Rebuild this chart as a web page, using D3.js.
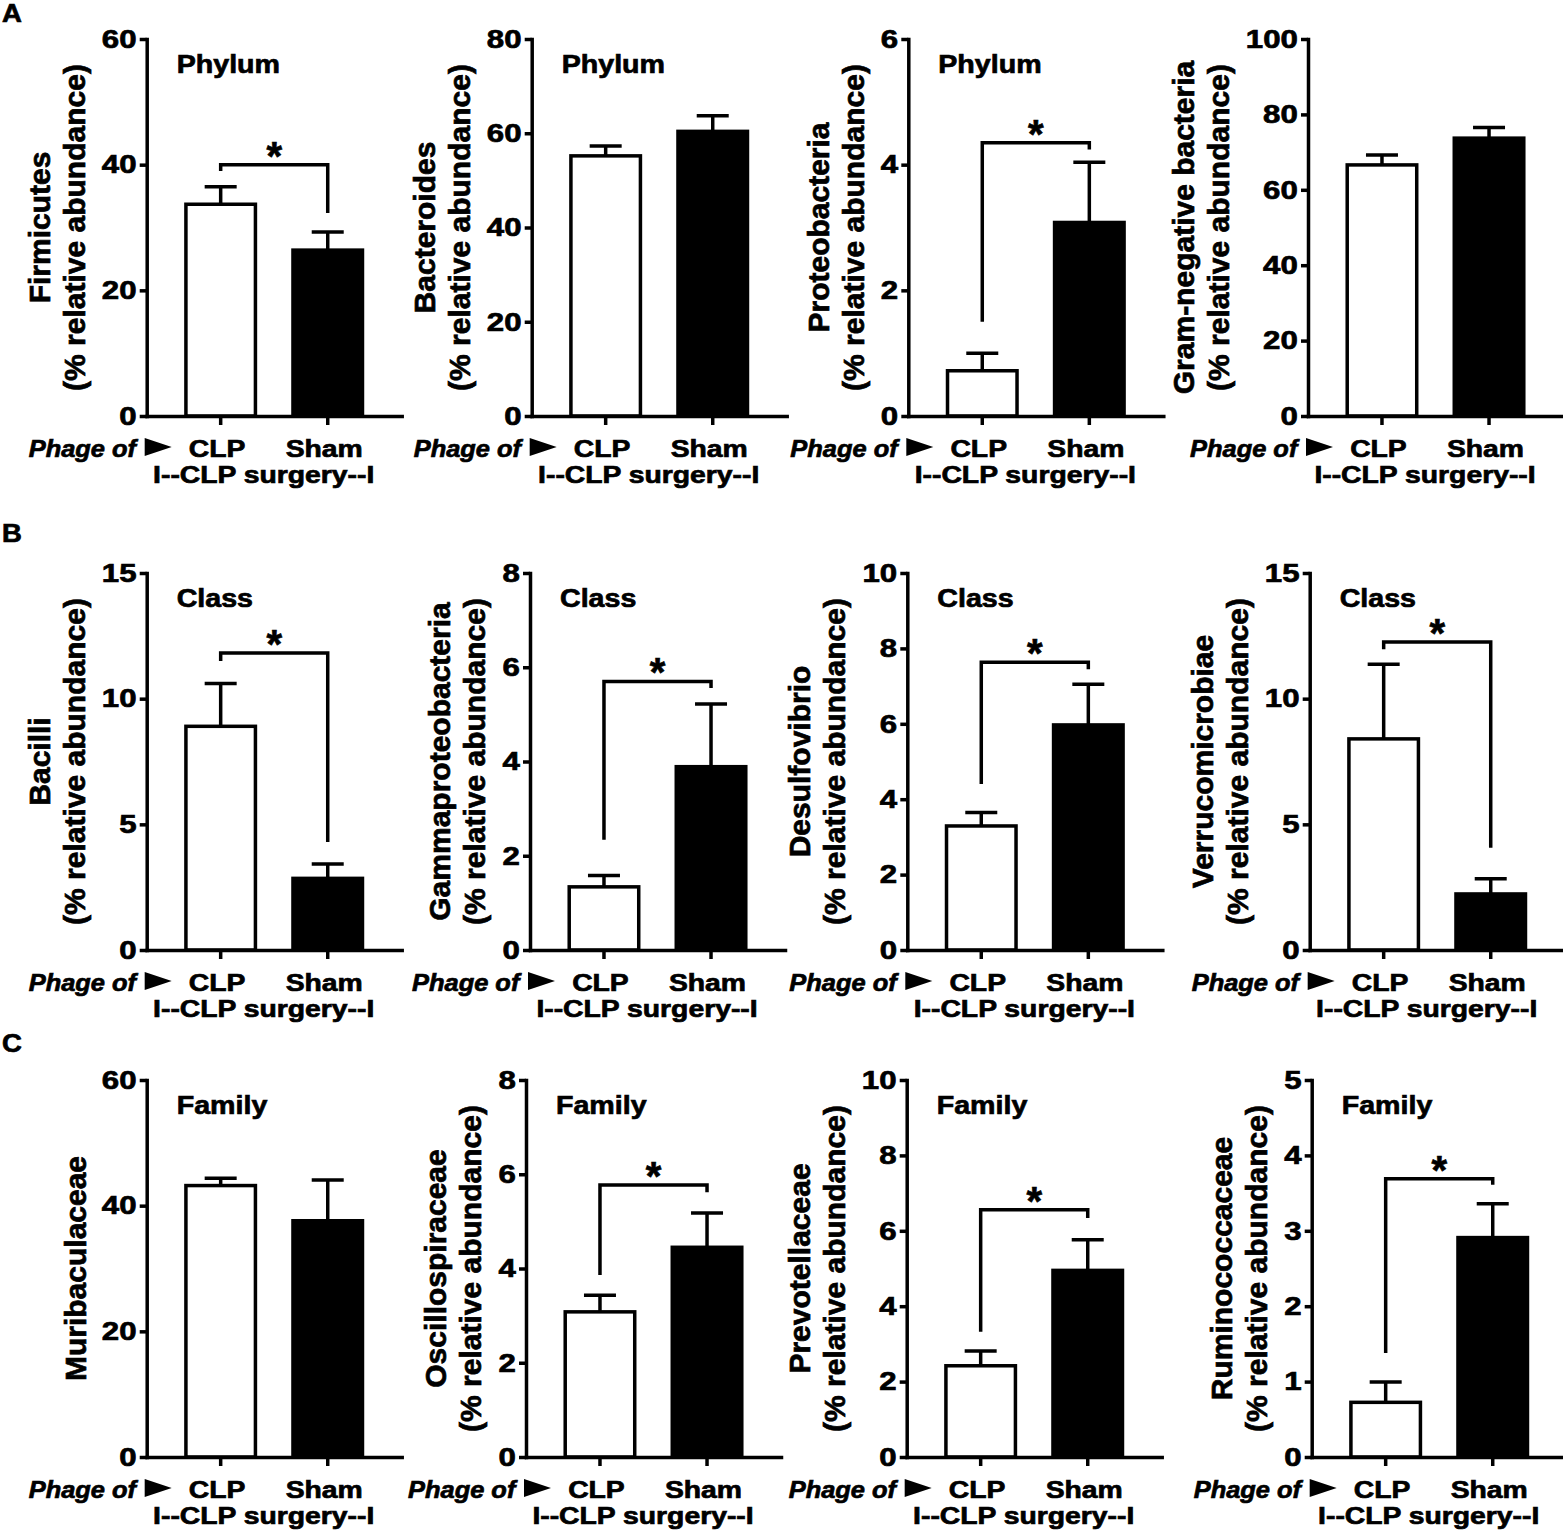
<!DOCTYPE html>
<html>
<head>
<meta charset="utf-8">
<script src="https://cdn.jsdelivr.net/npm/d3@7"></script>
<style>
  html, body { margin: 0; padding: 0; background: #fff; }
  svg { display: block; font-family: "Liberation Sans", Arial, Helvetica, sans-serif; font-weight: bold; }
  svg text { stroke: #000; stroke-width: 0.7px; paint-order: stroke; }
</style>
</head>
<body>
<svg id="chart" width="1563" height="1534"></svg>
<script>
// ---------- data ----------
const groups = ["CLP", "Sham"];
const taxa = ["Firmicutes", "Bacteroides", "Proteobacteria", "Gram-negative bacteria",
              "Bacilli", "Gammaproteobacteria", "Desulfovibrio", "Verrucomicrobiae",
              "Muribaculaceae", "Oscillospiraceae", "Prevotellaceae", "Ruminococcaceae"];
const twoLineTitle = [true, true, true, true, true, true, true, true, false, true, true, true];
const levels = ["Phylum", "Phylum", "Phylum", null,
                "Class", "Class", "Class", "Class",
                "Family", "Family", "Family", "Family"];
const yMax = [60, 80, 6, 100, 15, 8, 10, 15, 60, 8, 10, 5];
const yTicks = [
  [0, 20, 40, 60], [0, 20, 40, 60, 80], [0, 2, 4, 6], [0, 20, 40, 60, 80, 100],
  [0, 5, 10, 15], [0, 2, 4, 6, 8], [0, 2, 4, 6, 8, 10], [0, 5, 10, 15],
  [0, 20, 40, 60], [0, 2, 4, 6, 8], [0, 2, 4, 6, 8, 10], [0, 1, 2, 3, 4, 5]
];
const clpMean  = [33.7, 55.2, 0.72, 66.6, 8.9, 1.34, 3.29, 8.4, 43.2, 3.08, 2.42, 0.725];
const clpSEM   = [2.8, 2.1, 0.28, 2.6, 1.7, 0.24, 0.36, 2.97, 1.15, 0.35, 0.39, 0.27];
const shamMean = [26.4, 60.4, 3.08, 73.7, 2.85, 3.89, 5.97, 2.23, 37.6, 4.45, 4.95, 2.91];
const shamSEM  = [2.9, 3.3, 0.96, 2.8, 0.57, 1.33, 1.08, 0.6, 6.5, 0.73, 0.81, 0.45];
// significance brackets: [bracket top, left leg end, right leg end] in data units
const brackets = [
  [40, 39, 32.3], null, [4.35, 1.5, 4.24], null,
  [11.82, 11.5, 4.3], [5.7, 2.34, 5.56], [7.63, 4.4, 7.45], [12.25, 11.97, 4.07],
  null, [5.77, 3.86, 5.62], [6.56, 3.32, 6.34], [3.69, 1.38, 3.61]
];
const panelLetters = ["A", "B", "C"];

// ---------- layout ----------
const axisX = [146.7, 531.7, 908.3, 1308, 146.7, 530, 907.3, 1309.7, 146.7, 526, 906.7, 1311.7];
const rowTop = [39, 573, 1080];
const letterY = [22, 542, 1052];
const plotH = 377;
const xSpan = 255;
const SW = 3.5;
const HS = 1.18;  // horizontal stretch of small horizontal text
const FS = 24;    // small horizontal text size
const TS = 1.2;   // tick label stretch

const svg = d3.select("#chart");
svg.append("rect").attr("width", 1563).attr("height", 1534).attr("fill", "#fff");

panelLetters.forEach((L, r) => {
  svg.append("text").attr("transform", `translate(2,${letterY[r]}) scale(1.1,1)`)
    .attr("font-size", 25).text(L);
});

function hText(parent, x, y, txt, opts = {}) {
  const g = parent.append("g").attr("transform", `translate(${x},${y}) scale(${opts.sx || HS},1)`);
  const t = g.append("text").attr("font-size", opts.size || FS)
    .attr("text-anchor", opts.anchor || "start").text(txt);
  if (opts.italic) t.attr("font-style", "italic");
  return t;
}

for (let i = 0; i < 12; i++) {
  const row = Math.floor(i / 4);
  const ax = axisX[i];
  const top = rowTop[row];
  const zero = top + plotH;
  const g = svg.append("g");

  const y = d3.scaleLinear().domain([0, yMax[i]]).range([zero, top]);
  const x = d3.scaleBand().domain(groups).range([ax, ax + xSpan])
    .paddingInner(0.318).paddingOuter(0.35);
  const bw = x.bandwidth();
  const means = [clpMean[i], shamMean[i]];
  const sems = [clpSEM[i], shamSEM[i]];
  const fills = ["#fff", "#000"];

  // bars
  groups.forEach((grp, k) => {
    g.append("rect")
      .attr("x", x(grp) + SW / 2).attr("width", bw - SW)
      .attr("y", y(means[k])).attr("height", zero - y(means[k]))
      .attr("fill", fills[k]).attr("stroke", "#000").attr("stroke-width", SW);
    const cx = x(grp) + bw / 2;
    const et = y(means[k] + sems[k]);
    g.append("line").attr("x1", cx).attr("x2", cx)
      .attr("y1", y(means[k])).attr("y2", et)
      .attr("stroke", "#000").attr("stroke-width", SW);
    g.append("line").attr("x1", cx - 16).attr("x2", cx + 16)
      .attr("y1", et).attr("y2", et)
      .attr("stroke", "#000").attr("stroke-width", SW);
  });

  // y axis
  const yg = g.append("g").attr("transform", `translate(${ax},0)`)
    .call(d3.axisLeft(y).tickValues(yTicks[i]).tickSize(7).tickSizeOuter(0)
      .tickPadding(1.5).tickFormat(d3.format("d")));
  yg.select(".domain").attr("stroke-width", SW).attr("stroke-linecap", "square");
  yg.selectAll(".tick line").attr("stroke-width", SW);
  yg.selectAll(".tick text").attr("font-size", 26).attr("font-weight", "bold")
    .attr("font-family", "Liberation Sans, Arial, sans-serif").attr("fill", "#000")
    .attr("transform", `scale(${TS},1)`);

  // x axis
  const xg = g.append("g").attr("transform", `translate(0,${zero})`)
    .call(d3.axisBottom(x).tickSize(9).tickSizeOuter(0).tickPadding(15));
  xg.select(".domain").attr("stroke-width", SW).attr("stroke-linecap", "square");
  xg.selectAll(".tick line").attr("stroke-width", SW);
  xg.selectAll(".tick text").attr("font-size", FS).attr("font-weight", "bold")
    .attr("font-family", "Liberation Sans, Arial, sans-serif").attr("fill", "#000")
    .attr("x", -3).attr("transform", `scale(${HS},1)`);

  // y title
  let maxW = 0;
  yg.selectAll(".tick text").each(function () {
    maxW = Math.max(maxW, this.getComputedTextLength() * TS);
  });
  const labelLeft = ax - 10.2 - maxW;
  const midY = (top + zero) / 2;
  const lines = twoLineTitle[i] ? [taxa[i], "(% relative abundance)"] : [taxa[i]];
  const bx = twoLineTitle[i] ? [labelLeft - 52, labelLeft - 17] : [labelLeft - 16];
  lines.forEach((ln, k) => {
    g.append("text").attr("transform", `translate(${bx[k]},${midY}) rotate(-90)`)
      .attr("text-anchor", "middle").attr("font-size", 30).text(ln);
  });

  // level label
  if (levels[i]) hText(g, ax + 30, top + 34, levels[i], { size: 26, sx: 1.1 });

  // bracket + star
  const b = brackets[i];
  if (b) {
    const lx = x(groups[0]) + bw / 2, rx = x(groups[1]) + bw / 2;
    g.append("path")
      .attr("d", `M${lx},${y(b[1])}V${y(b[0])}H${rx}V${y(b[2])}`)
      .attr("fill", "none").attr("stroke", "#000").attr("stroke-width", SW);
    g.append("text").attr("x", (lx + rx) / 2).attr("y", y(b[0]) + 5)
      .attr("text-anchor", "middle").attr("font-size", 40).text("*");
  }

  // "Phage of ▶" and surgery label
  hText(g, ax - 118, zero + 41, "Phage of", { italic: true, sx: 1.06 });
  g.append("path")
    .attr("d", `M${ax - 2},${zero + 22}L${ax - 2},${zero + 40}L${ax + 25},${zero + 31}Z`)
    .attr("fill", "#000");
  hText(g, ax + 117, zero + 67, "I--CLP surgery--I", { anchor: "middle" });
}
</script>
</body>
</html>
